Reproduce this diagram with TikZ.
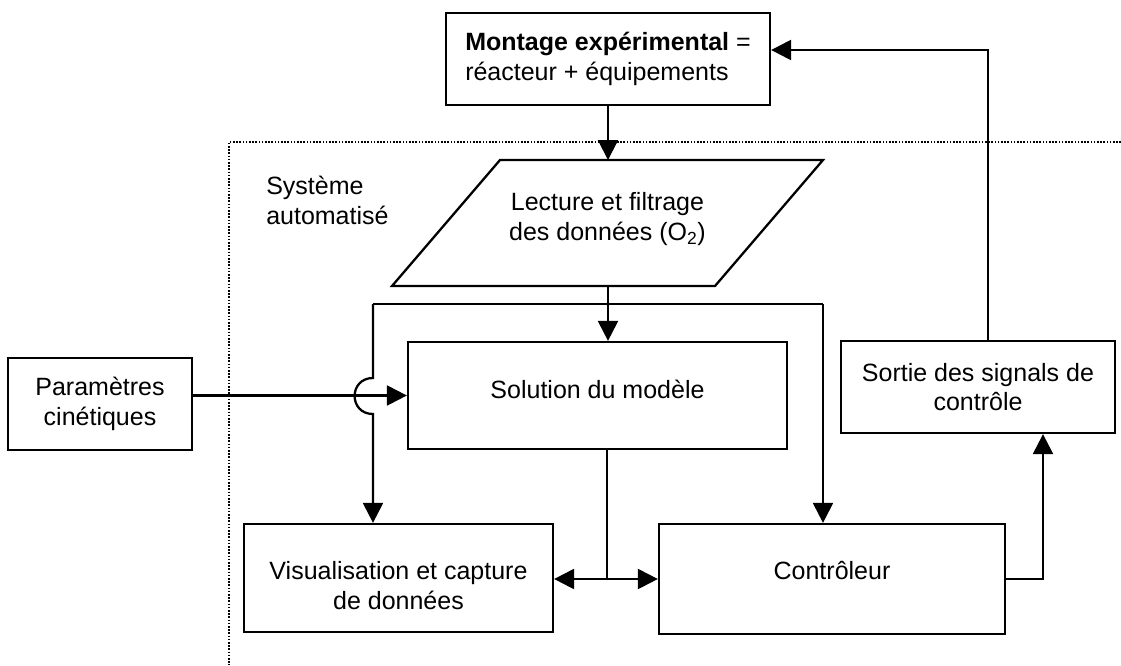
\documentclass[tikz,border=0pt]{standalone}
\usepackage{fontspec}
\setmainfont{Liberation Sans}
\usetikzlibrary{arrows.meta}
\tikzset{
  box/.style={draw, line width=1.7pt, align=center, inner sep=0pt},
  conn/.style={line width=1.7pt},
  arr/.style={conn, -{Triangle[length=15pt,width=15pt]}},
  frontier/.style={line width=1.4pt, dash pattern=on 1.2pt off 1.2pt},
  txt/.style={align=center, inner sep=0pt},
}
\begin{document}
\begin{tikzpicture}[x=0.75pt,y=-0.75pt, font=\fontsize{18.75}{22}\selectfont]
\useasboundingbox (0,0) rectangle (1121,665);
% boundary of the automated system
\draw[frontier] (1121,142) -- (229,142) -- (229,665);
% nodes
\node[box, minimum width=243pt, minimum height=69pt, align=left] (mont) at (608,59)
  {\textbf{Montage expérimental} =\\réacteur + équipements};
\node[box, minimum width=284.25pt, minimum height=80.25pt] (sol) at (597.5,395.5)
  {\raisebox{-1.9pt}[0pt][0pt]{Solution du modèle}};
\node[box, minimum width=231.75pt, minimum height=81pt] (vis) at (398.5,578) {};
\node[txt, anchor=base] (vistext) at (398.5,609) {Visualisation et capture\\de données};
\node[box, minimum width=259.5pt, minimum height=82.5pt] (ctrl) at (832,579)
  {\raisebox{0pt}[0pt][0pt]{Contrôleur}};
\node[box, minimum width=205.5pt, minimum height=69pt] (sortie) at (978,387) {Sortie des signals de\\contrôle};
\node[box, minimum width=138pt, minimum height=69pt] (param) at (100,404) {Paramètres\\cinétiques};
\node[align=left, anchor=north west, inner sep=0pt] (sys) at (266,176) {Système\\automatisé};
% parallelogram
\draw[conn, line join=miter] (392,286) -- (500,160) -- (823,160) -- (715,286) -- cycle;
\node[txt] (lect) at (607.5,219) {Lecture et filtrage\\des données (O\textsubscript{2})};
\coordinate (ptop) at (608,160);
\coordinate (pbot) at (608,286);
\coordinate (jl) at (373,304);
\coordinate (jr) at (823,304);
\coordinate (jb) at (607,579);
\coordinate (sx) at (1043,0);
\coordinate (tx) at (988,50);
% connectors
\draw[arr] (mont.south -| ptop) -- (ptop);
\draw[arr] (pbot) -- (pbot |- sol.north);
\draw[conn] (jl) -- (jr);
\draw[arr] (jr) -- (jr |- ctrl.north);
\draw[arr] (jl) -- (373,378) .. controls (348.5,378) and (348.5,414) .. (373,414) -- (jl |- vis.north);
\draw[arr] (param.east |- sol.west) -- (sol.west);
\draw[conn] (sol.south -| jb) -- (jb);
\draw[arr] (jb) -- (vis.east |- jb);
\draw[arr] (jb) -- (ctrl.west);
\draw[arr] (ctrl.east) -| (sortie.south -| sx);
\draw[arr] (sortie.north -| tx) -- (tx) -- (mont.east |- tx);
\end{tikzpicture}
\end{document}
